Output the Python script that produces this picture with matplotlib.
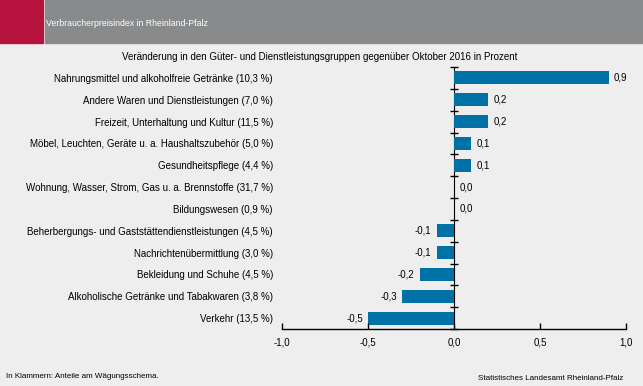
import matplotlib.pyplot as plt
import numpy as np

plt.rcParams['font.family'] = ['Liberation Sans', 'DejaVu Sans']

categories = [
    "Nahrungsmittel und alkoholfreie Getränke (10,3 %)",
    "Andere Waren und Dienstleistungen (7,0 %)",
    "Freizeit, Unterhaltung und Kultur (11,5 %)",
    "Möbel, Leuchten, Geräte u. a. Haushaltszubehör (5,0 %)",
    "Gesundheitspflege (4,4 %)",
    "Wohnung, Wasser, Strom, Gas u. a. Brennstoffe (31,7 %)",
    "Bildungswesen (0,9 %)",
    "Beherbergungs- und Gaststättendienstleistungen (4,5 %)",
    "Nachrichtenübermittlung (3,0 %)",
    "Bekleidung und Schuhe (4,5 %)",
    "Alkoholische Getränke und Tabakwaren (3,8 %)",
    "Verkehr (13,5 %)",
]
values = [0.9, 0.2, 0.2, 0.1, 0.1, 0.0, 0.0, -0.1, -0.1, -0.2, -0.3, -0.5]
xticks = [-1.0, -0.5, 0.0, 0.5, 1.0]

bg = "#eeeeee"
bar_color = "#0071a4"

fig = plt.figure(figsize=(6.43, 3.86), dpi=100, facecolor=bg)

# header band
fig.patches.append(plt.Rectangle((0, 1 - 43 / 386), 1, 43 / 386,
                                 transform=fig.transFigure, color="white"))
fig.patches.append(plt.Rectangle((0, 1 - 43 / 386), 43 / 643, 43 / 386,
                                 transform=fig.transFigure, color="#b5123e"))
fig.patches.append(plt.Rectangle((45 / 643, 1 - 43 / 386), 1, 43 / 386,
                                 transform=fig.transFigure, color="#898a8b"))
fig.text(46 / 643, 1 - 23 / 386, "Verbraucherpreisindex in Rheinland-Pfalz",
         color="white", fontsize=6.3, va="center", ha="left")

ax = fig.add_axes([282 / 643, 1 - 329 / 386, 344 / 643, 262 / 386])
ax.set_facecolor(bg)

y = np.arange(len(categories))
ax.barh(y, values, height=0.6, color=bar_color)
ax.set_ylim(len(categories) - 0.5, -0.5)
ax.set_xlim(-1, 1)

for yi, v in zip(y, values):
    txt = f"{v:.1f}".replace(".", ",")
    if v < 0:
        ax.text(v - 0.03, yi, txt, ha="right", va="center", fontsize=7)
    else:
        ax.text(v + 0.03, yi, txt, ha="left", va="center", fontsize=7)

ax.set_yticks(y)
ax.set_yticklabels(categories, fontsize=7)
ax.tick_params(axis="y", length=0, pad=6.5)
ax.set_xticks(xticks)
ax.set_xticklabels([f"{t:.1f}".replace(".", ",") for t in xticks], fontsize=7)
ax.tick_params(axis="x", direction="in", length=4, width=1, pad=6)

for s in ["left", "top", "right"]:
    ax.spines[s].set_visible(False)
ax.spines["bottom"].set_linewidth(1)

# zero axis with ticks at category boundaries
sec = ax.secondary_yaxis(0.5)
sec.set_yticks(np.arange(len(categories) + 1) - 0.5)
sec.set_yticklabels([])
sec.tick_params(direction="inout", length=6, width=1)
sec.spines["left"].set_linewidth(1)

fig.text(320 / 643, 1 - 57 / 386,
         "Veränderung in den Güter- und Dienstleistungsgruppen gegenüber Oktober 2016 in Prozent",
         fontsize=7, ha="center", va="center")
fig.text(6 / 643, 1 - 376 / 386, "In Klammern: Anteile am Wägungsschema.",
         fontsize=5.8, ha="left", va="center")
fig.text(623 / 643, 1 - 379 / 386, "Statistisches Landesamt Rheinland-Pfalz",
         fontsize=5.8, ha="right", va="center")

fig.savefig("out.png", dpi=100, facecolor=bg)
